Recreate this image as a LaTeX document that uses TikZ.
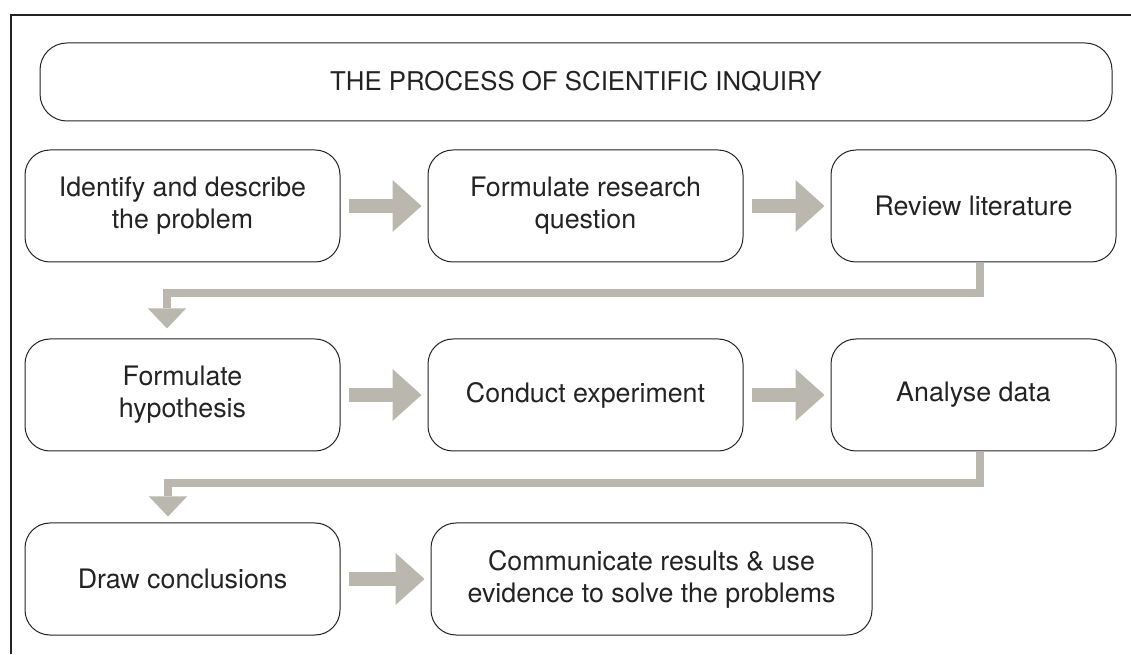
\documentclass[tikz,border=0pt]{standalone}
\usepackage{fontspec}
\setmainfont{TeX Gyre Heros}
\usetikzlibrary{positioning,arrows.meta}
\definecolor{arrowgrey}{HTML}{BAB7AE}
\definecolor{inkgrey}{HTML}{232323}

\tikzset{
  stepbox/.style = {draw=inkgrey, line width=0.5pt, rounded corners=12.5pt,
    minimum height=56pt, minimum width=157.5pt, align=center, text=inkgrey,
    font=\fontsize{13.4}{16}\selectfont},
  flowarrow/.style = {draw=arrowgrey, line width=7pt,
    -{Triangle[length=14.5pt,width=26pt,line width=0pt]},
    shorten <=4pt, shorten >=3pt},
  turnarrow/.style = {draw=arrowgrey, line width=4pt,
    -{Triangle[length=10pt,width=19pt,line width=0pt]}, shorten <=0.5pt}
}

\begin{document}
\begin{tikzpicture}[node distance = 43.5pt]
   \useasboundingbox (0,0) rectangle (565.5pt,327pt);
   \draw[inkgrey, line width=1pt] (5.5pt,0) -- (5.5pt,319.25pt) -- (565.5pt,319.25pt);
   \node[stepbox, minimum width=536pt, minimum height=39pt, rounded corners=13.5pt, font=\fontsize{12.9}{16}\selectfont] (title) at (288pt,286pt) {THE PROCESS OF SCIENTIFIC INQUIRY};
   \node[stepbox] (problem) at (91.25pt,224pt) {Identify and describe\\the problem};
   \node[stepbox, right=of problem] (question) {Formulate research\\question};
   \node[stepbox, right=of question, minimum width=142.5pt] (review) {Review literature};
   \node[stepbox, below=38pt of problem] (hypothesis) {Formulate\\hypothesis};
   \node[stepbox, right=of hypothesis] (experiment) {Conduct experiment};
   \node[stepbox, right=of experiment, minimum width=142.5pt] (analyse) {Analyse data};
   \node[stepbox, below=35.5pt of hypothesis] (conclude) {Draw conclusions};
   \node[stepbox, right=45pt of conclude, minimum width=220.5pt] (communicate) {Communicate results \& use\\evidence to solve the problems};
   \draw[flowarrow] (problem) -- (question);
   \draw[flowarrow] (question) -- (review);
   \draw[flowarrow] (hypothesis) -- (experiment);
   \draw[flowarrow] (experiment) -- (analyse);
   \draw[flowarrow] (conclude) -- (communicate);
   \draw[turnarrow, shorten >=5pt] ([xshift=3.25pt]review.south) -- ++(0,-15.5pt) -| ([xshift=-7.75pt]hypothesis.north);
   \draw[turnarrow, shorten >=3pt] ([xshift=3.25pt]analyse.south) -- ++(0,-16pt) -| ([xshift=-7.25pt]conclude.north);
\end{tikzpicture}
\end{document}
